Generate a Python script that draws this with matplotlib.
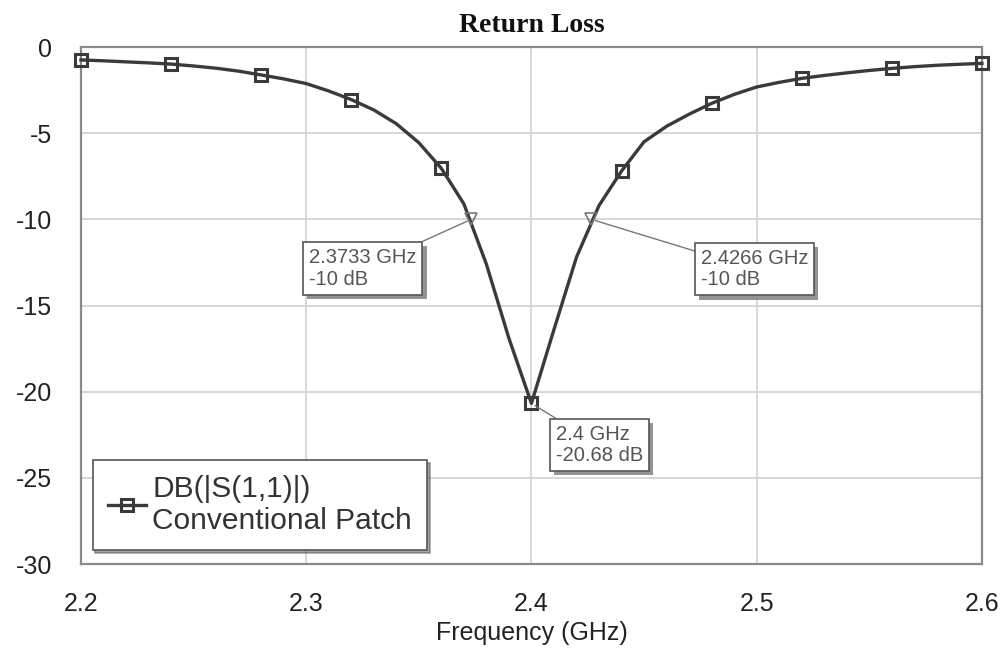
import matplotlib
matplotlib.use("Agg")
import matplotlib.pyplot as plt
import matplotlib.patheffects as pe

# S11 sweep, 2.20 - 2.60 GHz in 10 MHz steps
freq_ghz = [2.20, 2.21, 2.22, 2.23, 2.24, 2.25, 2.26, 2.27, 2.28, 2.29,
            2.30, 2.31, 2.32, 2.33, 2.34, 2.35, 2.36, 2.37, 2.38, 2.39,
            2.40, 2.41, 2.42, 2.43, 2.44, 2.45, 2.46, 2.47, 2.48, 2.49,
            2.50, 2.51, 2.52, 2.53, 2.54, 2.55, 2.56, 2.57, 2.58, 2.59, 2.60]
s11_db = [-0.75, -0.80, -0.86, -0.92, -0.99, -1.10, -1.23, -1.40, -1.62, -1.85,
          -2.12, -2.55, -3.05, -3.65, -4.45, -5.55, -7.04, -9.10, -12.6, -16.9,
          -20.68, -16.4, -12.2, -9.20, -7.20, -5.50, -4.60, -3.90, -3.27, -2.75,
          -2.32, -2.05, -1.82, -1.65, -1.50, -1.36, -1.24, -1.14, -1.06, -1.00, -0.95]

# -10 dB crossings and resonance
band_f = [2.3733, 2.4266]
band_db = [-10, -10]
res_f = 2.4
res_db = -20.68

xticks = [2.2, 2.3, 2.4, 2.5, 2.6]
yticks = [0, -5, -10, -15, -20, -25, -30]

plt.rcParams['font.family'] = ['Liberation Sans', 'DejaVu Sans']

fig = plt.figure(figsize=(10.06, 6.54), dpi=100)
ax = fig.add_axes([0.0805, 0.1376, 0.8955, 0.7905])

line_col = '#3a3a3a'
ax.plot(freq_ghz, s11_db, color=line_col, lw=2.4, marker='s', markevery=4,
        markersize=9, markerfacecolor='none', markeredgewidth=2.2,
        markeredgecolor=line_col, label='DB(|S(1,1)|)\nConventional Patch',
        clip_on=False, zorder=3)
ax.plot(band_f, band_db, linestyle='none', marker='v', markersize=9,
        markerfacecolor='none', markeredgecolor='#777777', markeredgewidth=1.2, zorder=4)

ax.set_xlim(2.2, 2.6)
ax.set_ylim(-30, 0)
ax.set_xticks(xticks)
ax.set_yticks(yticks)
ax.set_xticklabels([f"{t:g}" for t in xticks])
ax.set_yticklabels([f"{t:g}" for t in yticks])
ax.tick_params(length=0, labelsize=18, colors='#222222')
ax.tick_params(axis='y', pad=21)
ax.tick_params(axis='x', pad=20)
ax.grid(True, color='#d4d4d4', lw=1.3)
ax.set_axisbelow(True)
for s in ax.spines.values():
    s.set_color('#8a8a8a')
    s.set_linewidth(1.6)

ax.set_title('Return Loss', family='Liberation Serif', fontweight='bold',
             fontsize=20, color='#111111', pad=11)
ax.set_xlabel('Frequency (GHz)', fontsize=18, color='#222222', labelpad=4)

shadow = [pe.withSimplePatchShadow(offset=(3, -3), shadow_rgbFace='#888888', alpha=0.9)]
box = dict(boxstyle='square,pad=0.3', fc='white', ec='#555555', lw=1.2)
arrow = dict(arrowstyle='-', color='#777777', lw=1.0, shrinkA=0, shrinkB=3)


def marker_label(x, y, xt, yt):
    ann = ax.annotate(f"{x:g} GHz\n{y:g} dB", xy=(x, y), xytext=(xt, yt),
                      textcoords='data', ha='left', va='center', fontsize=14.5,
                      color='#555555', linespacing=1.15, bbox=box,
                      arrowprops=arrow, zorder=5)
    ann.get_bbox_patch().set_path_effects(shadow)


marker_label(band_f[0], band_db[0], 2.3012, -12.85)
marker_label(band_f[1], band_db[1], 2.4752, -12.9)
marker_label(res_f, res_db, 2.4109, -23.1)

leg = ax.legend(loc='lower left', bbox_to_anchor=(0.013, 0.027), borderaxespad=0,
                fontsize=21.5, frameon=True, fancybox=False, shadow=True,
                edgecolor='#555555', handlelength=1.3, handletextpad=0.2,
                borderpad=0.5, labelspacing=0.3, labelcolor='#333333')
leg.get_frame().set_linewidth(1.2)

fig.savefig('out.png', dpi=100)
